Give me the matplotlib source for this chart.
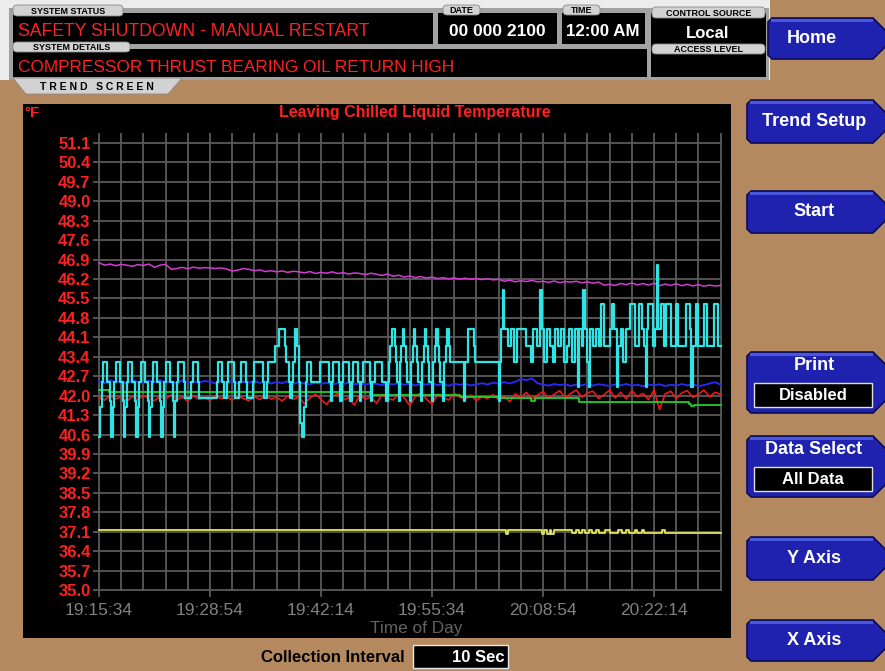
#!/usr/bin/env python3
import matplotlib
matplotlib.use('Agg')
import matplotlib.pyplot as plt
from matplotlib.patches import Rectangle, Polygon, FancyBboxPatch
from matplotlib.ticker import FuncFormatter

plt.rcParams['font.family'] = ['Liberation Sans', 'DejaVu Sans']

W, H = 885, 671

# ---- trend data (seconds after 19:15:34, degF) ----
start_clock = 19 * 3600 + 15 * 60 + 34
sample_sec = 40

magenta_f = [
    46.79, 46.70, 46.74, 46.68, 46.73, 46.70, 46.66, 46.72, 46.69, 46.74,
    46.62, 46.70, 46.73, 46.55, 46.58, 46.62, 46.57, 46.63, 46.59, 46.61,
    46.60, 46.58, 46.60, 46.56, 46.49, 46.52, 46.58, 46.55, 46.50, 46.53,
    46.47, 46.50, 46.46, 46.49, 46.44, 46.48, 46.46, 46.42, 46.47, 46.40,
    46.44, 46.41, 46.46, 46.40, 46.43, 46.38, 46.42, 46.40, 46.36, 46.41,
    46.37, 46.33, 46.38, 46.30, 46.34, 46.27, 46.31, 46.25, 46.29, 46.24,
    46.27, 46.22, 46.25, 46.21, 46.24, 46.20, 46.23, 46.19, 46.22, 46.18,
    46.21, 46.17, 46.19, 46.12, 46.16, 46.10, 46.14, 46.11, 46.15, 46.10,
    46.12, 46.08, 46.13, 46.07, 46.11, 46.09, 46.12, 46.06, 46.10, 46.05,
    46.09, 45.98, 46.01, 45.97, 46.04, 46.00, 46.06, 45.99, 46.04, 45.98,
    46.05, 45.96, 46.02, 45.97, 46.03, 45.96, 46.01, 45.95, 46.00, 45.94,
    45.98, 45.95, 45.97,
]
blue_f = [
    42.52, 42.45, 42.56, 42.48, 42.53, 42.44, 42.55, 42.50, 42.46, 42.54,
    42.49, 42.56, 42.47, 42.52, 42.45, 42.55, 42.48, 42.51, 42.46, 42.53,
    42.50, 42.44, 42.54, 42.48, 42.52, 42.45, 42.50, 42.47, 42.53, 42.46,
    42.51, 42.44, 42.49, 42.45, 42.52, 42.43, 42.48, 42.44, 42.41, 42.47,
    42.43, 42.46, 42.40, 42.45, 42.42, 42.47, 42.41, 42.44, 42.39, 42.45,
    42.42, 42.38, 42.44, 42.40, 42.46, 42.39, 42.43, 42.37, 42.42, 42.40,
    42.44, 42.38, 42.41, 42.36, 42.43, 42.39, 42.42, 42.37, 42.41, 42.45,
    42.40, 42.47, 42.43, 42.49, 42.44, 42.50, 42.60, 42.56, 42.62, 42.45,
    42.40, 42.36, 42.42, 42.38, 42.41, 42.35, 42.40, 42.37, 42.43, 42.36,
    42.41, 42.38, 42.35, 42.40, 42.37, 42.42, 42.36, 42.39, 42.34, 42.40,
    42.37, 42.41, 42.35, 42.39, 42.36, 42.42, 42.37, 42.40, 42.35, 42.38,
    42.44, 42.48, 42.40,
]
red_f = [
    41.92, 41.84, 42.00, 41.88, 41.96, 41.80, 41.98, 41.86, 42.02, 41.90,
    41.82, 41.97, 41.88, 42.03, 41.85, 41.95, 41.80, 41.99, 41.87, 41.93,
    41.83, 42.01, 41.89, 41.96, 41.84, 41.98, 41.90, 41.82, 41.97, 41.86,
    42.02, 41.88, 41.94, 41.81, 41.99, 41.87, 41.95, 41.70, 41.92, 42.05,
    41.86, 41.68, 41.96, 42.08, 41.84, 41.93, 41.66, 42.02, 41.88, 41.95,
    41.72, 42.04, 41.90, 41.85, 42.06, 41.92, 41.64, 41.98, 42.10, 41.87,
    41.70, 42.05, 41.93, 41.84, 42.08, 41.96, 41.88, 42.02, 41.82, 41.97,
    41.90, 42.04, 41.86, 41.99, 41.78, 42.06, 41.93, 42.12, 41.88, 42.02,
    42.15, 41.90, 42.05, 42.18, 41.92, 42.08, 42.20, 41.94, 42.10, 42.16,
    41.90, 42.04, 42.20, 41.92, 42.12, 41.88, 42.18, 41.96, 42.08, 41.86,
    42.20, 41.50, 42.06, 42.16, 41.90, 42.10, 42.18, 41.94, 42.06, 42.20,
    41.96, 42.12, 42.05,
]

green_t = [0, 70, 1950, 2600, 2900, 3110, 3140, 3460, 4250, 4270, 4290, 4480]
green_f = [42.22, 42.12, 42.02, 41.96, 41.92, 41.82, 41.90, 41.78, 41.70, 41.62, 41.68, 41.68]

yellow_t = [0, 2930, 2950, 3190, 3210, 3230, 3250, 3260, 3280,
            3410, 3440, 3460, 3480, 3500, 3530, 3550, 3580, 3600, 3650,
            3680, 3740, 3770, 3800, 3820, 3860, 3880, 3910, 3930, 4060,
            4080, 4480]
yellow_f = [37.15, 37.02, 37.15, 37.02, 37.15, 37.02, 37.15, 37.02, 37.15,
            37.05, 37.15, 37.05, 37.15, 37.05, 37.15, 37.05, 37.15, 37.05, 37.15,
            37.05, 37.15, 37.05, 37.15, 37.05, 37.15, 37.05, 37.15, 37.05, 37.15,
            37.05, 37.05]

cyan_t = [
    0, 10, 20, 30, 60, 80,
    90, 100, 110, 120, 150, 170,
    180, 190, 200, 210, 240, 260,
    270, 280, 290, 300, 330, 350,
    360, 370, 380, 390, 420, 440,
    450, 460, 470, 480, 510, 530,
    540, 550, 560,
    570, 610, 620, 660, 680, 710, 720,
    850, 860, 890, 900, 920, 930, 970, 980,
    1010, 1020, 1060, 1070, 1110, 1120, 1180, 1190,
    1210, 1220, 1270, 1300, 1340, 1350, 1370, 1380,
    1390, 1400, 1410, 1430, 1440, 1450, 1460, 1480, 1490,
    1500, 1530, 1590, 1660, 1670, 1680, 1690, 1730, 1740, 1750,
    1760, 1800, 1810, 1820, 1830, 1870, 1880, 1890,
    1900, 1950, 1960, 1970, 1990, 2040, 2070, 2080,
    2090, 2100, 2110, 2130, 2140, 2150, 2160,
    2170, 2180, 2190, 2200, 2210, 2220, 2240,
    2250, 2260, 2270, 2280, 2290, 2300, 2320,
    2330, 2340, 2350, 2360, 2370, 2380, 2400,
    2410, 2420, 2430, 2440, 2450, 2460, 2480,
    2490, 2500, 2510, 2520, 2530,
    2630, 2640, 2660, 2700, 2710,
    2880, 2890, 2900, 2910, 2920, 2950, 2970, 2990, 3010, 3080,
    3110, 3130, 3160, 3180, 3190, 3210, 3230, 3250, 3270, 3290,
    3310, 3330, 3350, 3370, 3390, 3410, 3430, 3450, 3460, 3480,
    3490, 3500, 3520, 3530, 3540, 3560, 3580, 3600, 3620, 3640,
    3680, 3700, 3710, 3730, 3740, 3760, 3780, 3800, 3830, 3860,
    3890, 3910, 3930, 3940, 3950, 3960, 3990, 4010, 4020, 4030,
    4050, 4070, 4090, 4120, 4160, 4170, 4230, 4260, 4270, 4280,
    4300, 4320, 4360, 4380, 4430, 4460, 4480,
]
cyan_f = [
    40.5, 41.6, 42.5, 43.2, 42.5, 41.8,
    40.5, 41.6, 42.5, 43.2, 42.5, 41.8,
    40.5, 41.6, 42.5, 43.2, 42.5, 41.8,
    40.5, 41.6, 42.5, 43.2, 42.5, 41.8,
    40.5, 41.6, 42.5, 43.2, 42.5, 41.8,
    40.5, 41.6, 42.5, 43.2, 42.5, 41.8,
    40.5, 41.8, 42.5,
    43.2, 42.5, 41.9, 42.5, 43.2, 42.5, 41.9,
    42.5, 43.2, 42.5, 41.9, 42.5, 43.2, 42.5, 41.9,
    42.5, 43.2, 42.5, 41.9, 42.5, 43.2, 42.5, 41.9,
    42.5, 43.2, 43.8, 44.4, 43.8, 43.2, 42.5, 41.9,
    42.5, 43.2, 44.4, 43.8, 42.5, 41.0, 40.5, 41.6, 42.5,
    43.2, 42.5, 43.2, 42.5, 41.8, 42.5, 43.2, 42.5, 41.8, 42.5,
    43.2, 42.5, 41.8, 42.5, 43.2, 42.5, 41.8, 42.5,
    43.2, 42.5, 41.8, 42.5, 43.2, 42.5, 41.8, 42.5,
    43.2, 43.8, 44.4, 43.8, 43.2, 42.5, 41.8,
    43.2, 43.8, 44.4, 43.8, 43.2, 42.5, 41.8,
    43.2, 43.8, 44.4, 43.8, 43.2, 42.5, 41.8,
    43.2, 43.8, 44.4, 43.8, 43.2, 42.5, 41.8,
    43.2, 43.8, 44.4, 43.8, 43.2, 42.5, 41.8,
    43.2, 43.8, 44.4, 43.8, 43.2,
    41.8, 43.2, 44.4, 43.8, 43.2,
    41.8, 43.2, 44.4, 45.8, 44.4, 43.8, 44.4, 43.2, 44.4, 43.8,
    43.2, 44.4, 43.8, 45.8, 44.4, 43.2, 44.4, 43.8, 43.2, 44.4,
    43.8, 44.4, 43.2, 43.8, 44.4, 43.2, 44.4, 42.3, 44.4, 43.8,
    45.8, 44.4, 43.2, 42.3, 44.4, 43.8, 44.4, 43.8, 45.3, 43.8,
    44.4, 45.3, 44.4, 42.3, 43.8, 44.4, 43.2, 44.4, 45.3, 43.8,
    45.3, 44.4, 43.8, 42.3, 44.4, 45.3, 43.8, 44.4, 46.7, 44.4,
    45.3, 43.8, 45.3, 43.8, 45.3, 43.8, 45.3, 44.4, 42.3, 43.8,
    45.3, 43.8, 45.3, 43.8, 45.3, 43.8, 43.8,
]

y_ticks = [35.0, 35.7, 36.4, 37.1, 37.8, 38.5, 39.2, 39.9, 40.6, 41.3, 42.0, 42.7,
           43.4, 44.1, 44.8, 45.5, 46.2, 46.9, 47.6, 48.3, 49.0, 49.7, 50.4, 51.1]
x_ticks = [0, 800, 1600, 2400, 3200, 4000]
x_grid = list(range(0, 4481, 160))

# ---- colours ----
TAN = '#b4895f'
FRAME = '#a2a2a2'
TAB = '#d2d2d2'
RED = '#ff2020'
BTN = '#1f22ae'
GRID = '#5a5a5a'


def clock(s, _pos=None):
    c = int(round(start_clock + s))
    return f"{c // 3600:02d}:{(c // 60) % 60:02d}:{c % 60:02d}"


def px_axes(fig, x0, y0, x1, y1):
    return fig.add_axes([x0 / W, 1 - y1 / H, (x1 - x0) / W, (y1 - y0) / H])


def tab(bg, x0, y0, x1, y1, label):
    bg.add_patch(FancyBboxPatch((x0, y0), x1 - x0, y1 - y0,
                                boxstyle='round,pad=0,rounding_size=4',
                                fc=TAB, ec='#8a8a8a', lw=0.6))
    bg.text((x0 + x1) / 2, (y0 + y1) / 2 + 0.5, label, ha='center', va='center',
            fontsize=6.5, weight='bold', color='black')


def button(bg, x0, y0, y1, label, sub=None):
    tip = 873 + (y1 - y0) / 2
    pts = [(x0, y0 + 4), (x0 + 4, y0), (873, y0), (tip, (y0 + y1) / 2),
           (873, y1), (x0 + 4, y1), (x0, y1 - 4)]
    bg.add_patch(Polygon(pts, closed=True, fc=BTN, ec='#0c0c55', lw=1.2))
    bg.add_patch(Rectangle((x0 + 3, y0 + 1), 870 - x0, 3, fc='#4a56dc', lw=0))
    if sub is None:
        bg.text(814, (y0 + y1) / 2, label, ha='center', va='center',
                fontsize=13, weight='bold', color='white')
    else:
        bg.text(814, y0 + 14, label, ha='center', va='center',
                fontsize=13, weight='bold', color='white')
        bg.add_patch(Rectangle((754, y1 - 30), 118, 24, fc='black', ec='#e0e0e0', lw=1))
        bg.text(813, y1 - 18, sub, ha='center', va='center',
                fontsize=12, weight='bold', color='white')


def main():
    fig = plt.figure(figsize=(W / 100, H / 100), dpi=100)
    bg = fig.add_axes([0, 0, 1, 1])
    bg.set_xlim(0, W)
    bg.set_ylim(H, 0)
    bg.axis('off')
    bg.add_patch(Rectangle((0, 0), W, H, fc=TAN, lw=0))

    # header block
    bg.add_patch(Rectangle((0, 0), 770, 80, fc='#ececec', lw=0))
    bg.add_patch(Rectangle((9, 8), 760, 72, fc=FRAME, lw=0))
    for x0, y0, x1, y1 in [(13, 13, 433, 44), (438, 13, 557, 44), (562, 13, 645, 44),
                           (13, 49, 647, 77), (651, 13, 766, 77)]:
        bg.add_patch(Rectangle((x0, y0), x1 - x0, y1 - y0, fc='black', lw=0))
    tab(bg, 13, 5, 123, 16, 'SYSTEM STATUS')
    tab(bg, 443, 5, 480, 15, 'DATE')
    tab(bg, 563, 5, 600, 15, 'TIME')
    tab(bg, 652, 7, 765, 18, 'CONTROL SOURCE')
    tab(bg, 13, 42, 130, 52, 'SYSTEM DETAILS')
    tab(bg, 652, 44, 765, 54, 'ACCESS LEVEL')
    bg.text(18, 31, 'SAFETY SHUTDOWN - MANUAL RESTART', color=RED, fontsize=12.7,
            ha='left', va='center')
    bg.text(18, 67, 'COMPRESSOR THRUST BEARING OIL RETURN HIGH', color=RED, fontsize=12.4,
            ha='left', va='center')
    bg.text(497, 32, '00 000 2100', color='white', fontsize=12.5, weight='bold',
            ha='center', va='center')
    bg.text(603, 32, '12:00 AM', color='white', fontsize=12.2, weight='bold',
            ha='center', va='center')
    bg.text(708, 33, 'Local', color='white', fontsize=12, weight='bold',
            ha='center', va='center')
    bg.add_patch(Polygon([(13, 78), (182, 78), (168, 94), (26, 94)], closed=True,
                         fc=TAB, ec='#8a8a8a', lw=0.6))
    bg.text(97, 86.5, 'T R E N D   S C R E E N', ha='center', va='center',
            fontsize=7.5, weight='bold', color='black')

    # chart panel
    bg.add_patch(Rectangle((23, 104), 708, 534, fc='black', lw=0))
    bg.text(415, 113, 'Leaving Chilled Liquid Temperature', color=RED, fontsize=11.5,
            weight='bold', ha='center', va='center')
    bg.text(24, 113, '°F', color=RED, fontsize=11, weight='bold', ha='left', va='center')
    bg.text(416, 629, 'Time of Day', color='#626262', fontsize=12.4, ha='center', va='center')

    ax = px_axes(fig, 97.6, 133.0, 722.0, 591.4)
    ax.set_xlim(-10, 4490)
    ax.set_ylim(34.95, 51.46)
    ax.patch.set_alpha(0)
    for sp in ax.spines.values():
        sp.set_visible(False)
    ax.set_xticks(x_ticks)
    ax.set_xticks(x_grid, minor=True)
    ax.set_yticks(y_ticks)
    ax.xaxis.set_major_formatter(FuncFormatter(clock))
    ax.set_yticklabels([f"{v:.1f}" for v in y_ticks])
    ax.grid(which='both', color=GRID, lw=1.3)
    ax.tick_params(axis='x', which='major', length=4.5, width=1.3, color=GRID,
                   labelcolor='#808080', labelsize=12.5, pad=3.5)
    ax.tick_params(axis='x', which='minor', length=0)
    ax.tick_params(axis='y', length=3.6, width=1.3, color=GRID,
                   labelcolor=RED, labelsize=12, pad=1.5)
    for lbl in ax.get_yticklabels():
        lbl.set_fontweight('bold')
    ax.set_axisbelow(True)

    t_samp = [i * sample_sec for i in range(len(magenta_f))]
    ax.step(yellow_t, yellow_f, where='post', color='#e4e45a', lw=1.3)
    ax.plot(t_samp, magenta_f, color='#d23cd2', lw=1.1)
    ax.plot(t_samp, blue_f, color='#2828f0', lw=1.4)
    ax.plot(t_samp, red_f, color='#f01818', lw=1.2)
    ax.step(green_t, green_f, where='post', color='#22d022', lw=1.3)
    ax.step(cyan_t, cyan_f, where='post', color='#2ee4e4', lw=1.6)

    # side buttons
    button(bg, 768, 18, 59, 'Home')
    bg.texts[-1].set_x(812)
    button(bg, 747, 100, 143, 'Trend Setup')
    button(bg, 747, 191, 233, 'Start')
    button(bg, 747, 352, 413, 'Print', 'Disabled')
    button(bg, 747, 436, 497, 'Data Select', 'All Data')
    button(bg, 747, 537, 580, 'Y Axis')
    button(bg, 747, 620, 661, 'X Axis')

    # collection interval
    bg.text(405, 657, 'Collection Interval', color='black', fontsize=12, weight='bold',
            ha='right', va='center')
    bg.add_patch(Rectangle((413, 645), 95, 23, fc='black', ec='#e6e6e6', lw=1))
    bg.text(505, 657, '10 Sec', color='white', fontsize=12, weight='bold',
            ha='right', va='center')

    fig.savefig('out.png', dpi=100)


if __name__ == '__main__':
    main()
